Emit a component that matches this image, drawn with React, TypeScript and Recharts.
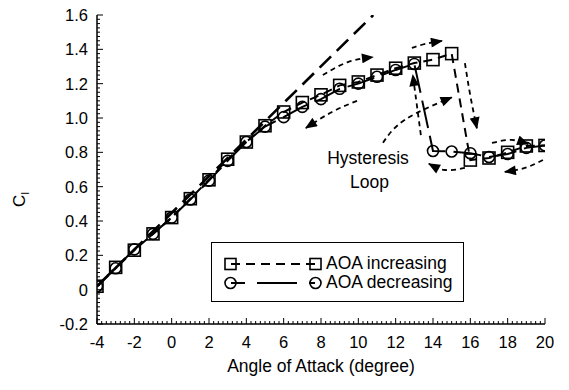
import { ComposedChart, Line, XAxis, YAxis, Legend, ReferenceDot } from "recharts";

const angles = [-4, -3, -2, -1, 0, 1, 2, 3, 4, 5, 6, 7, 8, 9, 10, 11, 12, 13, 14, 15, 16, 17, 18, 19, 20];
const clIncreasing = [0.02, 0.13, 0.23, 0.325, 0.42, 0.53, 0.64, 0.76, 0.86, 0.955, 1.035, 1.09, 1.135, 1.19, 1.21, 1.25, 1.29, 1.32, 1.34, 1.375, 0.755, 0.767, 0.8, 0.837, 0.84];
const clDecreasing = [0.02, 0.125, 0.235, 0.325, 0.42, 0.525, 0.635, 0.75, 0.86, 0.95, 1.005, 1.065, 1.11, 1.17, 1.2, 1.24, 1.28, 1.315, 0.808, 0.805, 0.795, 0.773, 0.79, 0.826, 0.84];

// thin-airfoil style straight line
const linearAngles = [-4, 10.8];
const linearCl = [0.02, 1.6];

const xTicks = [-4, -2, 0, 2, 4, 6, 8, 10, 12, 14, 16, 18, 20];
const yTicks = [-0.2, 0, 0.2, 0.4, 0.6, 0.8, 1.0, 1.2, 1.4, 1.6];

// dashed annotation arrows, [angle, cl] points, arrow head at the last one
const arrows: number[][][] = [
  [[8.1, 1.25], [9.44, 1.326], [10.78, 1.355]],
  [[9.93, 1.1], [8.59, 1.035], [7.19, 0.942]],
  [[12.87, 1.408], [13.6, 1.432], [14.48, 1.449]],
  [[15.71, 1.32], [16.0, 1.13], [16.35, 0.94]],
  [[13.35, 0.9], [12.92, 1.25]],
  [[11.32, 0.856], [12.5, 0.99], [15.0, 1.12]],
  [[15.71, 0.709], [14.64, 0.697], [13.78, 0.733]],
  [[19.89, 0.755], [18.92, 0.709], [17.85, 0.686]],
  [[17.16, 0.855], [18.2, 0.872], [19.1, 0.848]],
];

const loopText = [
  { x: 10.52, y: 0.767, text: "Hysteresis" },
  { x: 10.6, y: 0.627, text: "Loop" },
];

const FONT = "'Liberation Sans', Arial, Helvetica, sans-serif";

const toPoints = (xs: number[], ys: number[]) => xs.map((x, i) => ({ x, y: ys[i] }));

const withMinor = (major: number[], n: number) => {
  const out: number[] = [];
  for (let i = 0; i < major.length - 1; i++) {
    for (let k = 0; k < n; k++) {
      out.push(Math.round((major[i] + ((major[i + 1] - major[i]) * k) / n) * 1e4) / 1e4);
    }
  }
  out.push(major[major.length - 1]);
  return out;
};

const isMajor = (major: number[], v: number) => major.some((m) => Math.abs(m - v) < 1e-6);

const makeTick = (side: string, major: number[]) => (props: any) => {
  const { x, y, payload } = props;
  const v = payload.value;
  const big = isMajor(major, v);
  const len = big ? 6 : 3;
  let line;
  let label = null;
  if (side === "bottom") {
    line = <line x1={x} y1={y} x2={x} y2={y - len} stroke="#000" strokeWidth={1} />;
    if (big)
      label = (
        <text x={x} y={y + 18} textAnchor="middle" dominantBaseline="central" fontSize={16.5} fontFamily={FONT} fill="#000">
          {v}
        </text>
      );
  } else if (side === "left") {
    line = <line x1={x} y1={y} x2={x + len} y2={y} stroke="#000" strokeWidth={1} />;
    if (big)
      label = (
        <text x={x - 9} y={y} textAnchor="end" dominantBaseline="central" fontSize={16.5} fontFamily={FONT} fill="#000">
          {Math.abs(v) < 1e-9 ? "0" : v.toFixed(1)}
        </text>
      );
  } else if (side === "top") {
    line = <line x1={x} y1={y} x2={x} y2={y + len} stroke="#000" strokeWidth={1} />;
  } else {
    line = <line x1={x} y1={y} x2={x - len} y2={y} stroke="#000" strokeWidth={1} />;
  }
  return (
    <g>
      {line}
      {label}
    </g>
  );
};

const SquareDot = (p: any) => (
  <rect key={`sq-${p.index}`} x={p.cx - 6} y={p.cy - 6} width={12} height={12} fill="none" stroke="#000" strokeWidth={1.6} />
);

const CircleDot = (p: any) => (
  <circle key={`ci-${p.index}`} cx={p.cx} cy={p.cy} r={5.5} fill="none" stroke="#000" strokeWidth={1.6} />
);

const LegendBox = () => (
  <div
    style={{
      width: 253,
      height: 60,
      boxSizing: "border-box",
      border: "1.5px solid #000",
      background: "#fff",
      paddingTop: 11,
      paddingLeft: 11,
      fontFamily: FONT,
      fontSize: 17.5,
      color: "#000",
    }}
  >
    <div style={{ display: "flex", alignItems: "center", height: 19 }}>
      <svg width={100} height={16}>
        <line x1={8} y1={8} x2={92} y2={8} stroke="#000" strokeWidth={2} strokeDasharray="9 6" />
        <rect x={2} y={2.5} width={11} height={11} fill="none" stroke="#000" strokeWidth={1.6} />
        <rect x={87} y={2.5} width={11} height={11} fill="none" stroke="#000" strokeWidth={1.6} />
      </svg>
      <span style={{ marginLeft: 3 }}>AOA increasing</span>
    </div>
    <div style={{ display: "flex", alignItems: "center", height: 19 }}>
      <svg width={100} height={16}>
        <line x1={8} y1={8} x2={92} y2={8} stroke="#000" strokeWidth={2} strokeDasharray="14 12 40 12" />
        <circle cx={7.5} cy={8} r={5.5} fill="none" stroke="#000" strokeWidth={1.6} />
        <circle cx={92.5} cy={8} r={5.5} fill="none" stroke="#000" strokeWidth={1.6} />
      </svg>
      <span style={{ marginLeft: 3 }}>AOA decreasing</span>
    </div>
  </div>
);

export default function App() {
  const xAll = withMinor(xTicks, 8);
  const yAll = withMinor(yTicks, 8);
  return (
    <div style={{ position: "relative", width: 561, height: 382 }}>
      <svg width={0} height={0} style={{ position: "absolute" }}>
        <defs>
          <marker id="arrowHead" viewBox="0 0 12 10" refX="11" refY="5" markerWidth="13" markerHeight="10" markerUnits="userSpaceOnUse" orient="auto">
            <path d="M0,0 L12,5 L0,10 z" fill="#000" />
          </marker>
        </defs>
      </svg>
      <ComposedChart width={561} height={382} margin={{ top: 7, right: 24, bottom: 36, left: 29 }}>
        <XAxis
          xAxisId="bottom"
          type="number"
          dataKey="x"
          domain={[-4, 20]}
          allowDataOverflow
          ticks={xAll}
          interval={0}
          tickSize={0}
          tickMargin={0}
          height={30}
          tick={makeTick("bottom", xTicks)}
          tickLine={false}
          axisLine={{ stroke: "#000", strokeWidth: 1.5 }}
          label={{
            value: "Angle of Attack (degree)",
            position: "bottom",
            offset: 6,
            style: { fontSize: 17.5, fontFamily: FONT, fill: "#000" },
          }}
        />
        <XAxis
          xAxisId="top"
          orientation="top"
          type="number"
          dataKey="x"
          domain={[-4, 20]}
          allowDataOverflow
          ticks={xAll}
          interval={0}
          tickSize={0}
          tickMargin={0}
          height={0}
          tick={makeTick("top", xTicks)}
          tickLine={false}
          axisLine={{ stroke: "#000", strokeWidth: 1.5 }}
        />
        <YAxis
          yAxisId="left"
          type="number"
          domain={[-0.2, 1.6]}
          allowDataOverflow
          ticks={yAll}
          interval={0}
          tickSize={0}
          tickMargin={0}
          width={60}
          tick={makeTick("left", yTicks)}
          tickLine={false}
          axisLine={{ stroke: "#000", strokeWidth: 1.5 }}
          label={{
            position: "left",
            content: (p: any) => {
              const vb = p.viewBox;
              const x = vb.x - 18;
              const y = vb.y + vb.height / 2 + 30;
              return (
                <text x={x} y={y} transform={`rotate(-90, ${x}, ${y})`} textAnchor="middle" dominantBaseline="central" fontSize={17} fontFamily={FONT} fill="#000">
                  C
                  <tspan fontSize={11} dy={6}>
                    l
                  </tspan>
                </text>
              );
            },
          }}
        />
        <YAxis
          yAxisId="right"
          orientation="right"
          type="number"
          domain={[-0.2, 1.6]}
          allowDataOverflow
          ticks={yAll}
          interval={0}
          tickSize={0}
          tickMargin={0}
          width={0}
          tick={makeTick("right", yTicks)}
          tickLine={false}
          axisLine={{ stroke: "#000", strokeWidth: 1.5 }}
        />
        <Legend
          layout="horizontal"
          verticalAlign="middle"
          align="center"
          content={() => <LegendBox />}
          wrapperStyle={{ left: 203, top: 234, width: 253, height: 60 }}
        />
        <Line
          data={toPoints(linearAngles, linearCl)}
          dataKey="y"
          xAxisId="bottom"
          yAxisId="left"
          stroke="#000"
          strokeWidth={2.6}
          strokeDasharray="16 8"
          dot={false}
          activeDot={false}
          legendType="none"
          isAnimationActive={false}
        />
        {arrows.map((a, i) => (
          <Line
            key={`arrow-${i}`}
            data={a.map(([x, y]) => ({ x, y }))}
            dataKey="y"
            xAxisId="bottom"
            yAxisId="left"
            type="natural"
            stroke="#000"
            strokeWidth={1.8}
            strokeDasharray="5 4"
            markerEnd="url(#arrowHead)"
            dot={false}
            activeDot={false}
            legendType="none"
            isAnimationActive={false}
          />
        ))}
        <Line
          name="AOA decreasing"
          data={toPoints(angles, clDecreasing)}
          dataKey="y"
          xAxisId="bottom"
          yAxisId="left"
          stroke="#000"
          strokeWidth={2}
          strokeDasharray="28 8"
          dot={CircleDot}
          activeDot={false}
          isAnimationActive={false}
        />
        <Line
          name="AOA increasing"
          data={toPoints(angles, clIncreasing)}
          dataKey="y"
          xAxisId="bottom"
          yAxisId="left"
          stroke="#000"
          strokeWidth={2}
          strokeDasharray="9 6"
          dot={SquareDot}
          activeDot={false}
          isAnimationActive={false}
        />
        {loopText.map((t) => (
          <ReferenceDot
            key={t.text}
            x={t.x}
            y={t.y}
            xAxisId="bottom"
            yAxisId="left"
            r={1}
            shape={(p: any) => (
              <text x={p.cx} y={p.cy} textAnchor="middle" dominantBaseline="central" fontSize={17.5} fontFamily={FONT} fill="#000">
                {t.text}
              </text>
            )}
          />
        ))}
      </ComposedChart>
    </div>
  );
}
